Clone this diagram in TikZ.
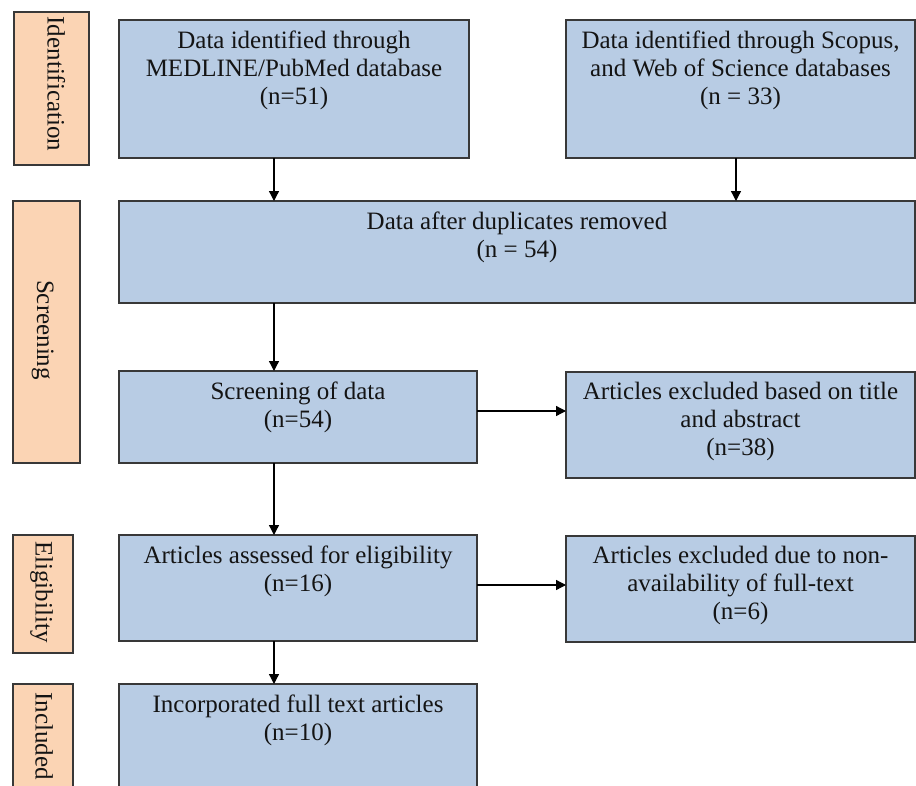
\documentclass[tikz,border=0pt]{standalone}
\usepackage{fontspec}
\setmainfont{Liberation Serif}
\usetikzlibrary{arrows.meta,calc}
\definecolor{boxblue}{HTML}{B8CCE4}
\definecolor{boxorange}{HTML}{FBD4B4}
\definecolor{edgecol}{HTML}{383838}
\definecolor{ink}{HTML}{141414}
\begin{document}
\begin{tikzpicture}[x=1pt,y=-1pt,
  flowbox/.style={draw=edgecol, line width=1.4pt, fill=boxblue, inner sep=0pt, outer sep=0pt},
  stagebox/.style={draw=edgecol, line width=1.4pt, fill=boxorange, inner sep=0pt, outer sep=0pt},
  txt/.style={align=center, inner sep=0pt, text=ink, font=\fontsize{25}{28}\selectfont},
  stagetxt/.style={rotate=-90, inner sep=0pt, text=ink, font=\fontsize{25}{28}\selectfont},
  arr/.style={draw=black, line width=1.3pt, -{Triangle[length=10pt,width=10pt]}}]
\useasboundingbox (0,0) rectangle (916,785);
\clip (0,0) rectangle (916,785);

% stage labels
\node[stagebox, minimum width=75pt, minimum height=153pt] (s1) at (51.5,88.5) {};
\node[stagetxt, anchor=base] (s1t) at (47.5,84) {Identification};
\node[stagebox, minimum width=67pt, minimum height=262pt] (s2) at (46.5,332) {};
\node[stagetxt, anchor=base] (s2t) at (37,330) {Screening};
\node[stagebox, minimum width=60pt, minimum height=118pt] (s3) at (43,594) {};
\node[stagetxt, anchor=base] (s3t) at (35.5,592) {Eligibility};
\node[stagebox, minimum width=60pt, minimum height=136pt] (s4) at (43,752) {};
\node[stagetxt, anchor=base west] (s4t) at (35.5,692) {Included};

% flow boxes
\node[flowbox, minimum width=350pt, minimum height=138pt] (b1) at (294,89) {};
\node[flowbox, minimum width=349pt, minimum height=138pt] (b2) at (740.5,89) {};
\node[flowbox, minimum width=796pt, minimum height=102pt] (dup) at (517,252) {};
\node[flowbox, minimum width=358pt, minimum height=92pt] (scr) at (298,417) {};
\node[flowbox, minimum width=349pt, minimum height=106pt] (ex1) at (740.5,425) {};
\node[flowbox, minimum width=358pt, minimum height=106pt] (ass) at (298,588) {};
\node[flowbox, minimum width=349pt, minimum height=106pt] (ex2) at (740.5,589) {};
\node[flowbox, minimum width=358pt, minimum height=136pt] (inc) at (298,752) {};

% texts
\node[txt, anchor=north] (t1) at ([yshift=-11pt]b1.north) {Data identified through\\MEDLINE/PubMed database\\(n=51)};
\node[txt, anchor=north] (t2) at ([yshift=-11pt]b2.north) {Data identified through Scopus,\\and Web of Science databases\\(n = 33)};
\node[txt, anchor=north] (t3) at ([yshift=-11pt]dup.north) {Data after duplicates removed\\(n = 54)};
\node[txt, anchor=north] (t4) at ([yshift=-11pt]scr.north) {Screening of data\\(n=54)};
\node[txt, anchor=north] (t5) at ([yshift=-10pt]ex1.north) {Articles excluded based on title\\and abstract\\(n=38)};
\node[txt, anchor=north] (t6) at ([yshift=-11pt]ass.north) {Articles assessed for eligibility\\(n=16)};
\node[txt, anchor=north] (t7) at ([yshift=-10pt]ex2.north) {Articles excluded due to non-\\availability of full-text\\(n=6)};
\node[txt, anchor=north] (t8) at ([yshift=-11pt]inc.north) {Incorporated full text articles\\(n=10)};

% connectors
\coordinate (ax) at (274,0);
\coordinate (bx) at (736,0);
\draw[arr] (b1.south -| ax) -- (dup.north -| ax);
\draw[arr] (b2.south -| bx) -- (dup.north -| bx);
\draw[arr] (dup.south -| ax) -- (scr.north -| ax);
\draw[arr] (scr.south -| ax) -- (ass.north -| ax);
\draw[arr] (ass.south -| ax) -- (inc.north -| ax);
\draw[arr] ([yshift=6pt]scr.east) -- ([yshift=6pt]scr.east -| ex1.west);
\draw[arr] ([yshift=3pt]ass.east) -- ([yshift=3pt]ass.east -| ex2.west);
\end{tikzpicture}
\end{document}
